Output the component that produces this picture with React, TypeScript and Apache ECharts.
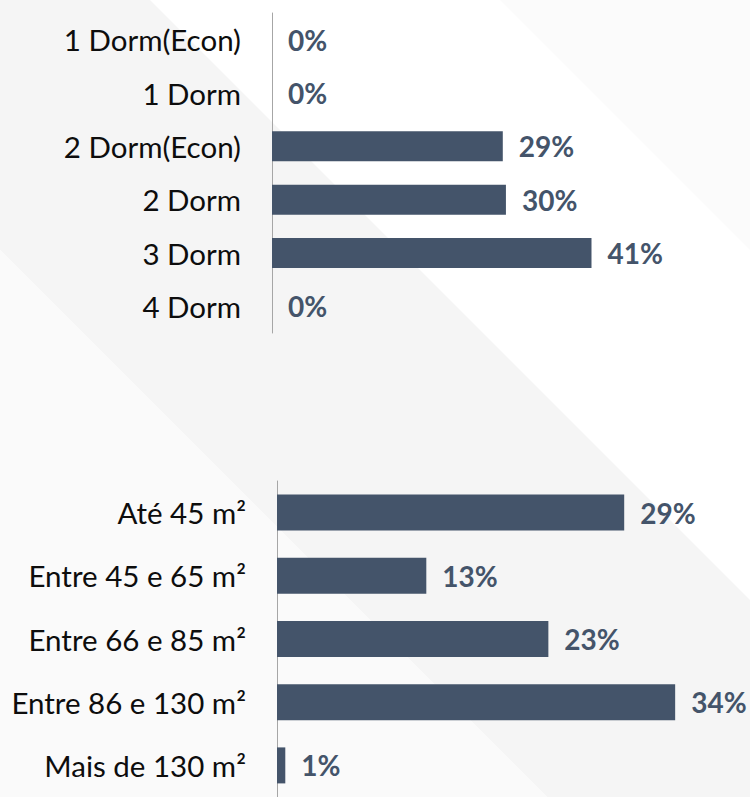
import React, { useEffect, useRef } from "react";
import * as echarts from "echarts";

const dormCategories = ["1 Dorm(Econ)", "1 Dorm", "2 Dorm(Econ)", "2 Dorm", "3 Dorm", "4 Dorm"];
const dormValues = [0, 0, 29.4, 29.8, 40.7, 0];

const areaCategories = ["Até 45 m²", "Entre 45 e 65 m²", "Entre 66 e 85 m²", "Entre 86 e 130 m²", "Mais de 130 m²"];
const areaValues = [29.3, 12.6, 22.9, 33.6, 0.7];

const BAR_COLOR = "#44546A";
const FONT = "Lato";

export default function App() {
  const ref = useRef<HTMLDivElement>(null);
  useEffect(() => {
    const chart = echarts.init(ref.current!, null, { renderer: "svg" });
    const catAxis = (gridIndex: number, data: string[]) => ({
      type: "category",
      gridIndex,
      data,
      inverse: true,
      axisLine: { show: true, lineStyle: { color: "#a6a6a6", width: 1 } },
      axisTick: { show: false },
      axisLabel: { margin: 31, fontSize: 29.5, color: "#0d0d0d", fontFamily: FONT },
      splitLine: { show: false },
    });
    const valAxis = (gridIndex: number, max: number) => ({
      type: "value",
      gridIndex,
      min: 0,
      max,
      show: false,
      splitLine: { show: false },
    });
    const label = {
      show: true,
      position: "right",
      distance: 16,
      color: BAR_COLOR,
      fontSize: 28,
      fontWeight: "bold",
      fontFamily: FONT,
      formatter: (p: any) => Math.round(p.value) + "%",
    };
    chart.setOption({
      animation: false,
      backgroundColor: "#ffffff",
      graphic: [
        { type: "polygon", z: -10, shape: { points: [[0, 0], [150, 0], [750, 600], [750, 797], [547, 797], [0, 250]] }, style: { fill: "#f5f5f5" }, silent: true },
        { type: "polygon", z: -10, shape: { points: [[0, 250], [547, 797], [0, 797]] }, style: { fill: "#fafafa" }, silent: true },
        { type: "polygon", z: -10, shape: { points: [[500, 0], [750, 0], [750, 250]] }, style: { fill: "#fbfbfb" }, silent: true },
      ],
      grid: [
        { left: 272, top: 13, width: 353.25, height: 320 },
        { left: 277, top: 481, width: 414.75, height: 320 },
      ],
      xAxis: [valAxis(0, 45), valAxis(1, 35)],
      yAxis: [catAxis(0, dormCategories), catAxis(1, areaCategories)],
      series: [
        {
          type: "bar",
          xAxisIndex: 0,
          yAxisIndex: 0,
          data: dormValues,
          barWidth: 30,
          itemStyle: { color: BAR_COLOR },
          label,
        },
        {
          type: "bar",
          xAxisIndex: 1,
          yAxisIndex: 1,
          data: areaValues,
          barWidth: 36,
          itemStyle: { color: BAR_COLOR },
          label,
        },
      ],
    });
    return () => chart.dispose();
  }, []);
  return (
    <div
      ref={ref}
      style={{ position: "fixed", left: 0, top: 0, width: 750, height: 797 }}
    />
  );
}
